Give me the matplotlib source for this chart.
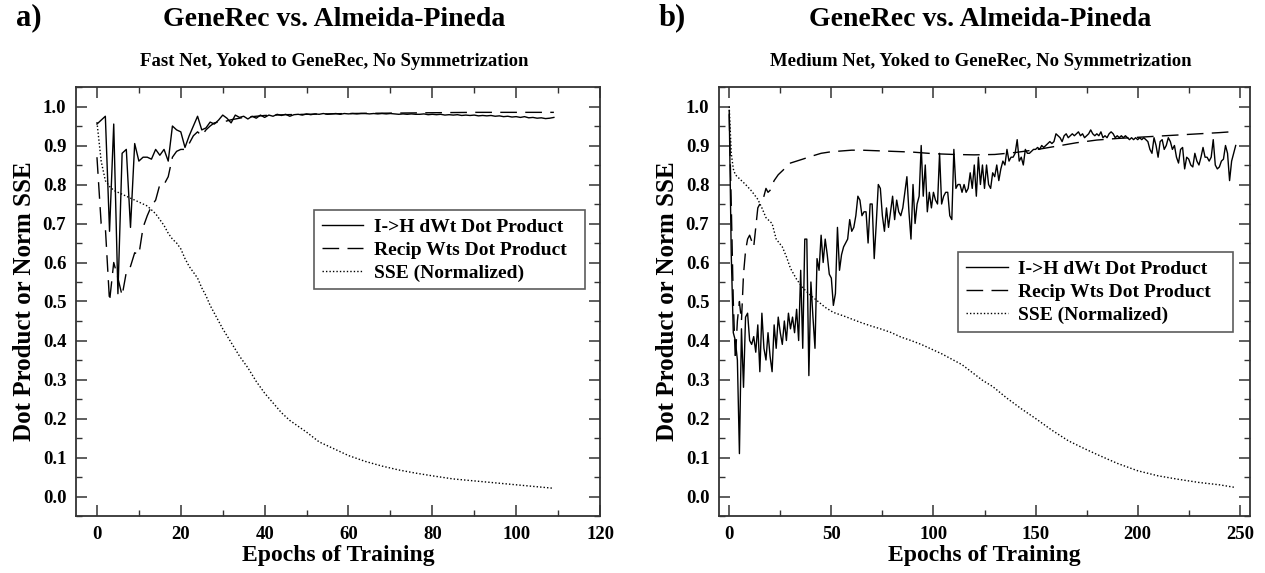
import matplotlib
matplotlib.use("Agg")
import matplotlib.pyplot as plt
from matplotlib.ticker import MultipleLocator, FormatStrFormatter

# ---------------- data: panel a (Fast Net) ----------------
a_epochs = list(range(110))
a_dwt = [0.955, 0.965, 0.975, 0.68, 0.955, 0.52, 0.88, 0.89, 0.69, 0.905,
         0.86, 0.87, 0.87, 0.865, 0.89, 0.875, 0.89, 0.86, 0.95, 0.94,
         0.935, 0.895, 0.925, 0.95, 0.975, 0.94, 0.945, 0.96, 0.955, 0.965,
         0.978, 0.97, 0.958, 0.978, 0.972, 0.975, 0.968, 0.975, 0.97, 0.978,
         0.972, 0.978, 0.975, 0.98, 0.977, 0.98, 0.975, 0.979, 0.98, 0.978,
         0.981, 0.979, 0.981, 0.98, 0.982, 0.98, 0.981, 0.982, 0.98, 0.982,
         0.981, 0.982, 0.981, 0.982, 0.982, 0.981, 0.982, 0.981, 0.982, 0.981,
         0.982, 0.981, 0.98, 0.981, 0.98, 0.981, 0.98, 0.98, 0.981, 0.979,
         0.98, 0.979, 0.98, 0.978, 0.979, 0.978, 0.979, 0.977, 0.978, 0.977,
         0.978, 0.976, 0.977, 0.976, 0.977, 0.975, 0.976, 0.974, 0.975, 0.973,
         0.974, 0.972, 0.974, 0.971, 0.972, 0.97, 0.971, 0.969, 0.97, 0.972]
a_recip_epochs = [0, 1, 2, 3, 4, 5, 6, 7, 8, 9, 10, 11, 12, 13, 14, 15, 16, 17, 18, 19,
                  20, 21, 22, 23, 24, 25, 26, 27, 28, 29, 30, 31, 32, 33, 34, 35, 36,
                  38, 40, 45, 50, 60, 70, 80, 90, 100, 109]
a_recip = [0.87, 0.70, 0.69, 0.50, 0.60, 0.56, 0.515, 0.575, 0.59, 0.625, 0.62,
           0.69, 0.72, 0.745, 0.76, 0.80, 0.80, 0.82, 0.87, 0.885, 0.89, 0.89,
           0.905, 0.925, 0.935, 0.925, 0.94, 0.95, 0.958, 0.96, 0.96, 0.963,
           0.966, 0.968, 0.97, 0.972, 0.973, 0.975, 0.977, 0.979, 0.98, 0.982,
           0.983, 0.984, 0.985, 0.985, 0.985]
a_sse_epochs = [0, 1, 2, 3, 4, 5, 6, 7, 8, 9, 10, 11, 12, 13, 14, 15, 16, 17, 18, 19,
                20, 21, 22, 23, 24, 25, 26, 27, 28, 29, 30, 32, 34, 36, 38, 40, 42,
                44, 46, 48, 50, 53, 56, 60, 64, 68, 72, 76, 80, 85, 90, 95, 100,
                105, 109]
a_sse = [0.96, 0.86, 0.81, 0.795, 0.785, 0.78, 0.775, 0.77, 0.765, 0.76, 0.755,
         0.75, 0.745, 0.735, 0.725, 0.71, 0.695, 0.675, 0.66, 0.65, 0.635, 0.61,
         0.59, 0.575, 0.56, 0.535, 0.515, 0.49, 0.47, 0.45, 0.43, 0.395, 0.36,
         0.33, 0.295, 0.265, 0.24, 0.215, 0.195, 0.18, 0.165, 0.14, 0.125, 0.105,
         0.09, 0.078, 0.068, 0.06, 0.053, 0.045, 0.04, 0.035, 0.03, 0.025, 0.021]

# ---------------- data: panel b (Medium Net) ----------------
b_epochs = list(range(249))
b_dwt = [0.99, 0.62, 0.42, 0.40, 0.35, 0.11, 0.43, 0.28, 0.46, 0.47,
         0.40, 0.39, 0.41, 0.37, 0.44, 0.32, 0.47, 0.38, 0.35, 0.42,
         0.36, 0.32, 0.44, 0.38, 0.46, 0.42, 0.39, 0.45, 0.40, 0.47,
         0.43, 0.46, 0.42, 0.48, 0.40, 0.58, 0.38, 0.66, 0.66, 0.31,
         0.55, 0.46, 0.38, 0.61, 0.58, 0.67, 0.60, 0.66, 0.62, 0.57,
         0.56, 0.49, 0.52, 0.69, 0.58, 0.62, 0.64, 0.65, 0.66, 0.71,
         0.68, 0.69, 0.72, 0.77, 0.76, 0.72, 0.73, 0.73, 0.65, 0.75,
         0.75, 0.61, 0.70, 0.80, 0.79, 0.72, 0.68, 0.74, 0.69, 0.73,
         0.77, 0.71, 0.76, 0.73, 0.72, 0.74, 0.78, 0.82, 0.73, 0.66,
         0.80, 0.70, 0.75, 0.77, 0.90, 0.77, 0.85, 0.73, 0.78, 0.74,
         0.78, 0.76, 0.75, 0.88, 0.75, 0.77, 0.78, 0.78, 0.72, 0.71,
         0.89, 0.79, 0.80, 0.80, 0.78, 0.80, 0.78, 0.79, 0.83, 0.79,
         0.85, 0.77, 0.87, 0.80, 0.85, 0.79, 0.85, 0.80, 0.79, 0.83,
         0.82, 0.85, 0.81, 0.84, 0.86, 0.85, 0.89, 0.86, 0.87, 0.87,
         0.88, 0.915, 0.86, 0.87, 0.85, 0.89, 0.88, 0.88, 0.885, 0.89,
         0.89, 0.895, 0.89, 0.90, 0.895, 0.90, 0.905, 0.91, 0.905, 0.91,
         0.93, 0.925, 0.92, 0.91, 0.925, 0.93, 0.92, 0.925, 0.93, 0.925,
         0.93, 0.935, 0.925, 0.93, 0.92, 0.925, 0.93, 0.94, 0.93, 0.925,
         0.93, 0.925, 0.935, 0.92, 0.925, 0.92, 0.93, 0.935, 0.93, 0.92,
         0.925, 0.92, 0.925, 0.92, 0.925, 0.92, 0.915, 0.92, 0.915, 0.92,
         0.915, 0.92, 0.915, 0.92, 0.915, 0.91, 0.89, 0.88, 0.92, 0.90,
         0.87, 0.91, 0.915, 0.89, 0.90, 0.92, 0.91, 0.89, 0.90, 0.87,
         0.855, 0.89, 0.895, 0.84, 0.87, 0.865, 0.85, 0.845, 0.88, 0.86,
         0.85, 0.87, 0.895, 0.87, 0.87, 0.86, 0.87, 0.915, 0.85, 0.84,
         0.845, 0.86, 0.865, 0.90, 0.88, 0.81, 0.86, 0.88, 0.90]
b_recip_epochs = [0, 1, 2, 3, 4, 5, 6, 7, 8, 9, 10, 11, 12, 13, 14, 15, 16, 17, 18,
                  19, 20, 22, 24, 26, 28, 30, 33, 36, 40, 45, 50, 55, 60, 65, 70,
                  75, 80, 90, 100, 110, 120, 130, 140, 150, 160, 170, 180, 190,
                  200, 210, 220, 230, 240, 248]
b_recip = [0.98, 0.75, 0.50, 0.35, 0.45, 0.50, 0.45, 0.57, 0.63, 0.66, 0.67,
           0.655, 0.64, 0.69, 0.74, 0.75, 0.755, 0.77, 0.79, 0.78, 0.785, 0.81,
           0.825, 0.835, 0.845, 0.855, 0.86, 0.865, 0.872, 0.88, 0.884, 0.886,
           0.888, 0.888, 0.887, 0.886, 0.885, 0.883, 0.879, 0.877, 0.876, 0.877,
           0.882, 0.889, 0.898, 0.907, 0.914, 0.918, 0.921, 0.924, 0.927, 0.93,
           0.933, 0.936]
b_sse_epochs = [0, 1, 2, 3, 5, 8, 11, 14, 16, 18, 21, 23, 26, 28, 30, 33, 36, 40,
                44, 47, 51, 56, 60, 64, 69, 74, 79, 84, 89, 94, 99, 104, 109, 114,
                119, 124, 129, 136, 143, 150, 158, 166, 173, 180, 190, 200, 210,
                220, 230, 240, 248]
b_sse = [1.0, 0.88, 0.84, 0.825, 0.815, 0.80, 0.783, 0.762, 0.74, 0.715, 0.70,
         0.66, 0.64, 0.615, 0.585, 0.557, 0.535, 0.515, 0.498, 0.485, 0.472,
         0.463, 0.455, 0.447, 0.438, 0.43, 0.421, 0.409, 0.40, 0.39, 0.378,
         0.366, 0.352, 0.338, 0.318, 0.298, 0.282, 0.252, 0.225, 0.20, 0.17,
         0.143, 0.125, 0.108, 0.085, 0.066, 0.053, 0.044, 0.036, 0.03, 0.023]

titles = ["GeneRec vs. Almeida-Pineda", "GeneRec vs. Almeida-Pineda"]
subtitles = ["Fast Net, Yoked to GeneRec, No Symmetrization",
             "Medium Net, Yoked to GeneRec, No Symmetrization"]
panel_tags = ["a)", "b)"]
legend_labels = ["I->H dWt Dot Product", "Recip Wts Dot Product", "SSE (Normalized)"]
xlabel = "Epochs of Training"
ylabel = "Dot Product or Norm SSE"

# ---------------- drawing ----------------
plt.rcParams['font.family'] = ['Liberation Serif', 'DejaVu Serif']
plt.rcParams['font.weight'] = 'bold'

W, H = 1265, 573
fig = plt.figure(figsize=(W / 100, H / 100), dpi=100)

def px_axes(l, r, t, b):
    return fig.add_axes([l / W, 1 - b / H, (r - l) / W, (b - t) / H])

ax_a = px_axes(76, 600, 87, 516)
ax_b = px_axes(719, 1250, 87, 516)

panels = [
    (ax_a, a_epochs, a_dwt, a_recip_epochs, a_recip, a_sse_epochs, a_sse,
     (-5, 120), 20, 10, (0.454, 0.50, 0.517, 0.213)),
    (ax_b, b_epochs, b_dwt, b_recip_epochs, b_recip, b_sse_epochs, b_sse,
     (-5, 255), 50, 25, (0.450, 0.40, 0.518, 0.215)),
]

for i, (ax, ex, dwt, rex, rec, sex, sse, xlim, xmaj, xmin, lbox) in enumerate(panels):
    l1, = ax.plot(ex, dwt, color='black', lw=1.0, ls='-')
    l2, = ax.plot(rex, rec, color='black', lw=1.0, ls=(0, (12, 6)))
    l3, = ax.plot(sex, sse, color='black', lw=1.0, ls=(0, (1, 1.5)))
    ax.set_xlim(*xlim)
    ax.set_ylim(-0.05, 1.05)
    ax.xaxis.set_major_locator(MultipleLocator(xmaj))
    ax.xaxis.set_minor_locator(MultipleLocator(xmin))
    ax.yaxis.set_major_locator(MultipleLocator(0.1))
    ax.yaxis.set_minor_locator(MultipleLocator(0.05))
    ax.yaxis.set_major_formatter(FormatStrFormatter('%.1f'))
    ax.tick_params(which='both', direction='in', top=True, right=True,
                   labelsize=13.5, color='#333333', pad=7)
    ax.tick_params(which='major', length=8, width=1.1)
    ax.tick_params(which='minor', length=4, width=1.0)
    for s in ax.spines.values():
        s.set_linewidth(1.3)
        s.set_color('#333333')
    for lab in ax.get_xticklabels() + ax.get_yticklabels():
        lab.set_fontweight('bold')
    ax.set_xlabel(xlabel, fontsize=17, fontweight='bold', labelpad=2)
    ax.set_ylabel(ylabel, fontsize=18, fontweight='bold', labelpad=5)
    leg = ax.legend([l1, l2, l3], legend_labels, loc='upper left',
                    bbox_to_anchor=lbox, mode='expand', borderaxespad=0,
                    frameon=True, fancybox=False, edgecolor='#333333',
                    handlelength=2.15, borderpad=0.4, labelspacing=0.28,
                    handletextpad=0.55, prop={'weight': 'bold', 'size': 14})
    leg.get_frame().set_linewidth(1.2)
    pos = ax.get_position()
    cx = pos.x0 + pos.width / 2 - 4 / W
    fig.text(cx, 1 - 20 / H, titles[i], ha='center', va='center',
             fontsize=20, fontweight='bold')
    fig.text(cx, 1 - 62 / H, subtitles[i], ha='center', va='center',
             fontsize=13.5, fontweight='bold')
    fig.text(pos.x0 - 60 / W, 1 - 18 / H, panel_tags[i], ha='left', va='center',
             fontsize=22, fontweight='bold')

fig.savefig('out.png', dpi=100)
